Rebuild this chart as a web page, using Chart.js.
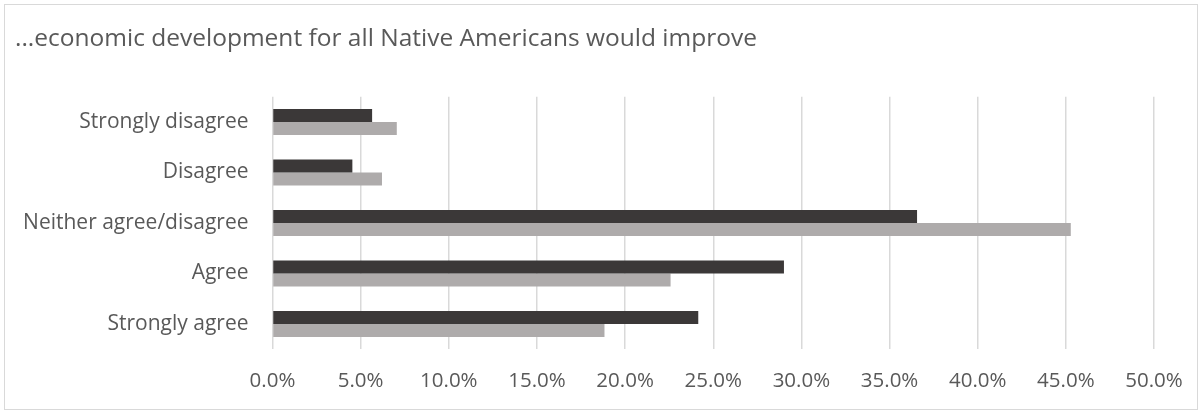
<!DOCTYPE html>
<html lang="en">
<head>
    <meta charset="UTF-8">
    <title>Economic development survey</title>
    <script src="https://cdn.jsdelivr.net/npm/chart.js@4.4.1/dist/chart.umd.min.js"></script>
    <style>
        body { margin: 0; background: #ffffff; }
        #frame {
            position: absolute;
            left: 4px; top: 4px;
            width: 1192px; height: 404px;
            border: 1.5px solid #d9d9d9;
        }
        #wrap { position: absolute; left: 0; top: 0; width: 1203px; height: 411px; }
    </style>
</head>
<body>
    <div id="frame"></div>
    <div id="wrap"><canvas id="surveyChart" width="1203" height="411"></canvas></div>

    <script>
        // responses, top to bottom
        const categories = ['Strongly disagree', 'Disagree', 'Neither agree/disagree', 'Agree', 'Strongly agree'];
        const darkValues = [5.65, 4.53, 36.56, 29.01, 24.15];
        const lightValues = [7.05, 6.21, 45.28, 22.58, 18.83];
        const xTicks = [0, 5, 10, 15, 20, 25, 30, 35, 40, 45, 50];

        const textColor = '#595959';
        const fontFamily = '"Open Sans", "Noto Sans", sans-serif';

        const ctx = document.getElementById('surveyChart').getContext('2d');
        new Chart(ctx, {
            type: 'bar',
            data: {
                labels: categories,
                datasets: [{
                    data: darkValues,
                    backgroundColor: '#3b3838'
                }, {
                    data: lightValues,
                    backgroundColor: '#aeabab'
                }]
            },
            options: {
                indexAxis: 'y',
                responsive: false,
                animation: false,
                categoryPercentage: 0.515,
                barPercentage: 1.0,
                layout: { padding: { left: 15, right: 49, top: 0, bottom: 0 } },
                plugins: {
                    legend: { display: false },
                    tooltip: { enabled: false },
                    title: {
                        display: true,
                        text: '...economic development for all Native Americans would improve',
                        align: 'start',
                        color: textColor,
                        font: { family: fontFamily, size: 24.5, weight: 'normal' },
                        padding: { top: 24, bottom: 43.35 }
                    }
                },
                scales: {
                    x: {
                        min: 0,
                        max: 50,
                        afterBuildTicks: function (scale) {
                            scale.ticks = xTicks.map(v => ({ value: v }));
                        },
                        afterFit: function (scale) { scale.height = 61.75; },
                        border: { display: false },
                        grid: { color: '#d9d9d9', lineWidth: 1.5, drawTicks: false },
                        ticks: {
                            padding: 20,
                            color: textColor,
                            font: { family: fontFamily, size: 20.5 },
                            callback: v => v.toFixed(1) + '%'
                        }
                    },
                    y: {
                        afterFit: function (scale) { scale.width = 257.5; },
                        border: { display: false },
                        grid: { display: false, drawTicks: false },
                        ticks: {
                            padding: 24,
                            color: textColor,
                            font: { family: fontFamily, size: 21 }
                        }
                    }
                }
            }
        });
    </script>
</body>
</html>
